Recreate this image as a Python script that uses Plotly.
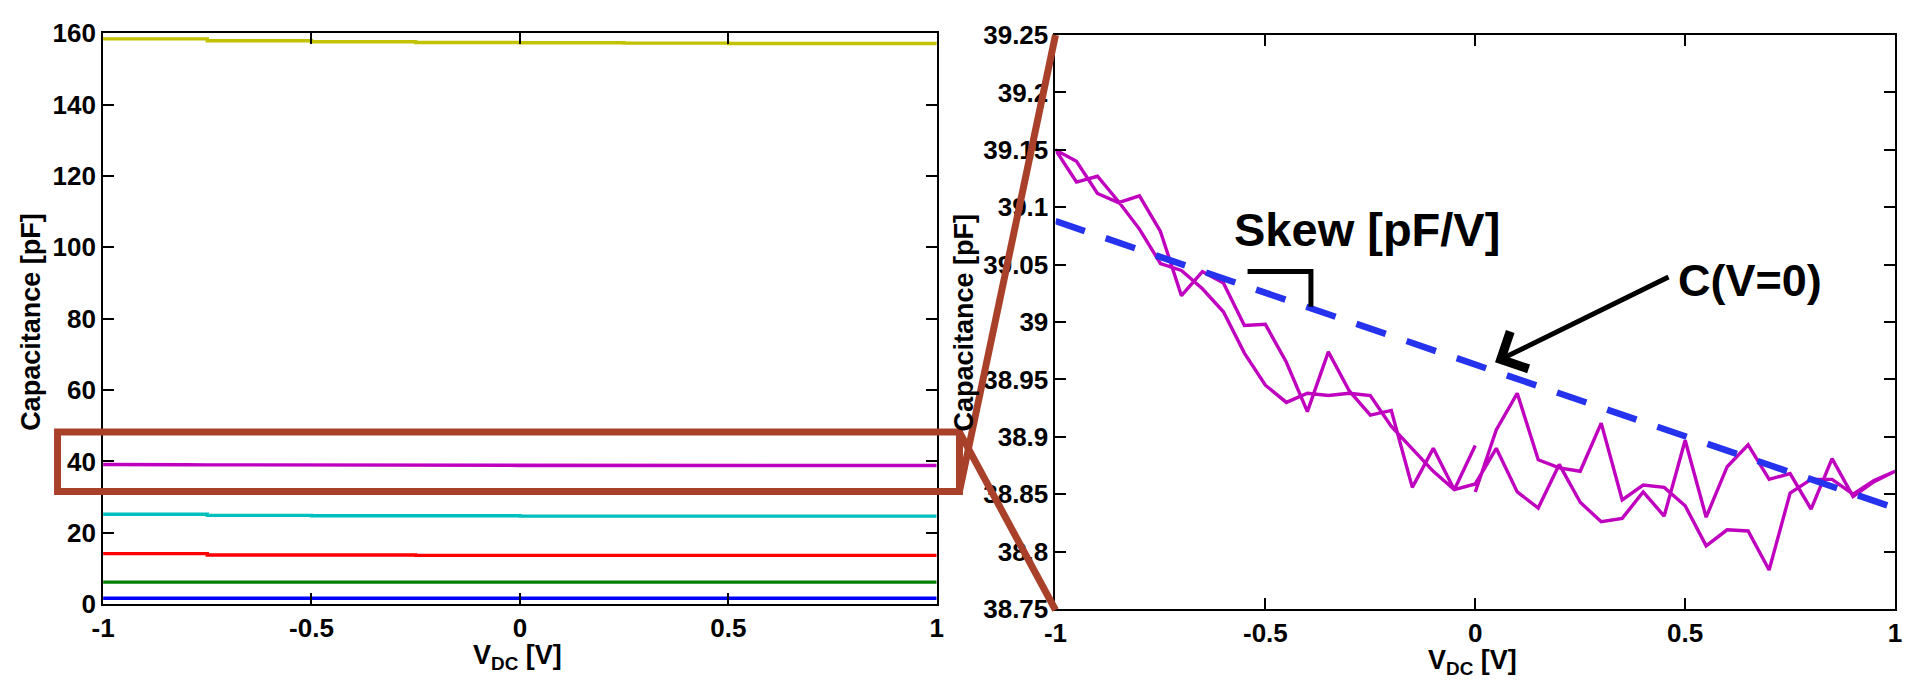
import plotly.graph_objects as go

# ---------------- data ----------------
# Left panel: sweep voltage and capacitance of each device (pF)
LEFT_V = [-1.0, -0.75, -0.5, -0.25, 0.0, 0.25, 0.5, 0.75, 1.0]
C_YELLOW = [158.4, 157.9, 157.6, 157.4, 157.3, 157.2, 157.1, 157.1, 157.0]
C_CYAN = [25.2, 24.9, 24.8, 24.8, 24.7, 24.7, 24.7, 24.7, 24.7]
C_RED = [14.2, 13.8, 13.8, 13.7, 13.7, 13.7, 13.7, 13.7, 13.7]
C_GREEN = [6.2, 6.2, 6.2, 6.2, 6.2, 6.2, 6.2, 6.2, 6.2]
C_BLUE = [1.7, 1.7, 1.7, 1.7, 1.7, 1.7, 1.7, 1.7, 1.7]

# Magenta device, measured in a sweep 0 -> 1 -> -1 -> 0 (V, pF)
V_SWEEP_UP = [0.0, 0.05, 0.1, 0.15, 0.2, 0.25, 0.3, 0.35, 0.4, 0.45, 0.5,
              0.55, 0.6, 0.65, 0.7, 0.75, 0.8, 0.85, 0.9, 0.95, 1.0]
C_SWEEP_UP = [38.852, 38.906, 38.938, 38.880, 38.873, 38.870, 38.912, 38.845,
              38.858, 38.856, 38.840, 38.805, 38.819, 38.818, 38.784, 38.851,
              38.863, 38.863, 38.850, 38.862, 38.870]
V_SWEEP_DOWN = [0.95, 0.9, 0.85, 0.8, 0.75, 0.7, 0.65, 0.6, 0.55, 0.5, 0.45,
                0.4, 0.35, 0.3, 0.25, 0.2, 0.15, 0.1, 0.05, 0.0,
                -0.05, -0.1, -0.15, -0.2, -0.25, -0.3, -0.35, -0.4, -0.45,
                -0.5, -0.55, -0.6, -0.65, -0.7, -0.75, -0.8, -0.85, -0.9,
                -0.95, -1.0]
C_SWEEP_DOWN = [38.861, 38.848, 38.881, 38.837, 38.868, 38.863, 38.893, 38.874,
                38.830, 38.897, 38.831, 38.852, 38.829, 38.826, 38.843, 38.876,
                38.838, 38.852, 38.890, 38.859,
                38.854, 38.870, 38.889, 38.909, 38.936, 38.938, 38.936, 38.938,
                38.930, 38.945, 38.973, 39.009, 39.029, 39.045, 39.051, 39.081,
                39.105, 39.127, 39.122, 39.150]
V_SWEEP_BACK = [-0.95, -0.9, -0.85, -0.8, -0.75, -0.7, -0.65, -0.6, -0.55,
                -0.5, -0.45, -0.4, -0.35, -0.3, -0.25, -0.2, -0.15, -0.1,
                -0.05, 0.0]
C_SWEEP_BACK = [39.140, 39.112, 39.104, 39.110, 39.079, 39.023, 39.044, 39.034,
                38.997, 38.998, 38.965, 38.922, 38.974, 38.940, 38.919, 38.923,
                38.856, 38.890, 38.854, 38.8925]

# Linear fit of the magenta device
FIT_V = [-1.0, 1.0]
FIT_C = [39.088, 38.838]

X_TICKS = [-1, -0.5, 0, 0.5, 1]
X_TICK_TEXT = ["-1", "-0.5", "0", "0.5", "1"]
LEFT_Y_TICKS = [0, 20, 40, 60, 80, 100, 120, 140, 160]
RIGHT_Y_TICKS = [38.75, 38.8, 38.85, 38.9, 38.95, 39.0, 39.05, 39.1, 39.15, 39.2, 39.25]
RIGHT_Y_TEXT = ["38.75", "38.8", "38.85", "38.9", "38.95", "39", "39.05",
                "39.1", "39.15", "39.2", "39.25"]

# ---------------- styling ----------------
W, H = 1907, 691
FONT = "Liberation Sans, Arial, Helvetica, sans-serif"
MAG = "#bf00bf"
BROWN = "#a9412a"

mag_v = V_SWEEP_UP + V_SWEEP_DOWN + V_SWEEP_BACK
mag_c = C_SWEEP_UP + C_SWEEP_DOWN + C_SWEEP_BACK

fig = go.Figure()

left_series = [
    (C_YELLOW, "#c2c200"),
    (C_CYAN, "#00bfbf"),
    (C_RED, "#ff0000"),
    (C_GREEN, "#008000"),
    (C_BLUE, "#0000ff"),
]
for vals, col in left_series:
    fig.add_trace(go.Scatter(x=LEFT_V, y=vals, mode="lines", line=dict(color=col, width=3.4),
                             line_shape="hv", xaxis="x", yaxis="y", showlegend=False, hoverinfo="skip"))
fig.add_trace(go.Scatter(x=mag_v, y=mag_c, mode="lines", line=dict(color=MAG, width=3.4),
                         xaxis="x", yaxis="y", showlegend=False, hoverinfo="skip"))

# right panel
fig.add_trace(go.Scatter(x=mag_v, y=mag_c, mode="lines", line=dict(color=MAG, width=3.4),
                         xaxis="x2", yaxis="y2", showlegend=False, hoverinfo="skip"))
fig.add_trace(go.Scatter(x=FIT_V, y=FIT_C, mode="lines",
                         line=dict(color="#2633ee", width=6.5, dash="31px,22px"),
                         xaxis="x2", yaxis="y2", showlegend=False, hoverinfo="skip"))


def px_x(p):
    return p / W


def px_y(p):
    return 1 - p / H


axis_common = dict(
    showgrid=False, zeroline=False, showline=True, linecolor="black", linewidth=2,
    mirror="ticks", ticks="inside", ticklen=11, tickwidth=2, tickcolor="black",
    tickfont=dict(family=FONT, size=26, color="black", weight="bold"),
)

fig.update_layout(
    width=W, height=H,
    margin=dict(l=0, r=0, t=0, b=0),
    paper_bgcolor="white", plot_bgcolor="white",
    showlegend=False,
    xaxis=dict(domain=[px_x(92), px_x(934)], range=[-1, 1], tickvals=X_TICKS,
               ticktext=X_TICK_TEXT, anchor="y", **axis_common),
    yaxis=dict(domain=[px_y(616), px_y(19)], range=[0, 160], tickvals=LEFT_Y_TICKS,
               anchor="x", **axis_common),
    xaxis2=dict(domain=[px_x(1054), px_x(1902)], range=[-1, 1], tickvals=X_TICKS,
                ticktext=X_TICK_TEXT, anchor="y2", **axis_common),
    yaxis2=dict(domain=[px_y(621), px_y(21)], range=[38.75, 39.25], tickvals=RIGHT_Y_TICKS,
                ticktext=RIGHT_Y_TEXT, anchor="x2", **axis_common),
)

# zoom-box callout (brown)
shapes = [
    dict(type="rect", xref="paper", yref="paper", x0=px_x(46), x1=px_x(957),
         y0=px_y(498), y1=px_y(436), line=dict(color=BROWN, width=7), layer="above"),
    dict(type="line", xref="paper", yref="paper", x0=px_x(957), y0=px_y(436),
         x1=px_x(1054), y1=px_y(622), line=dict(color=BROWN, width=7), layer="above"),
    dict(type="line", xref="paper", yref="paper", x0=px_x(957), y0=px_y(498),
         x1=px_x(1054), y1=px_y(21), line=dict(color=BROWN, width=7), layer="above"),
    # slope bracket
    dict(type="path", xref="x2", yref="y2",
         path="M -0.5425,39.044 L -0.3915,39.044 L -0.3915,39.0133",
         line=dict(color="black", width=5), layer="above"),
]
fig.update_layout(shapes=shapes)

title_font = dict(family=FONT, size=27, color="black", weight="bold")
annotations = [
    dict(text="Capacitance [pF]", xref="paper", yref="paper", x=px_x(19), y=px_y(321),
         textangle=-90, showarrow=False, font=title_font, xanchor="center", yanchor="middle"),
    dict(text="Capacitance [pF]", xref="paper", yref="paper", x=px_x(962), y=px_y(321),
         textangle=-90, showarrow=False, font=title_font, xanchor="center", yanchor="middle"),
    dict(text="V<sub>DC</sub> [V]", xref="paper", yref="paper", x=px_x(511), y=px_y(671),
         showarrow=False, font=title_font, xanchor="center", yanchor="middle"),
    dict(text="V<sub>DC</sub> [V]", xref="paper", yref="paper", x=px_x(1475), y=px_y(676),
         showarrow=False, font=title_font, xanchor="center", yanchor="middle"),
    dict(text="Skew [pF/V]", xref="x2", yref="y2", x=-0.259, y=39.081, showarrow=False,
         font=dict(family=FONT, size=47, color="black", weight="bold"),
         xanchor="center", yanchor="middle"),
    dict(text="C(V=0)", xref="x2", yref="y2", x=0.655, y=39.036, showarrow=False,
         font=dict(family=FONT, size=45, color="black", weight="bold"),
         xanchor="center", yanchor="middle"),
    dict(text="", xref="x2", yref="y2", x=0.047, y=38.965, ax=175, ay=-86,
         showarrow=True, arrowhead=4, arrowsize=1.6, arrowwidth=5, arrowcolor="black",
         standoff=0),
]
fig.update_layout(annotations=annotations)

fig.write_html("out.html")
